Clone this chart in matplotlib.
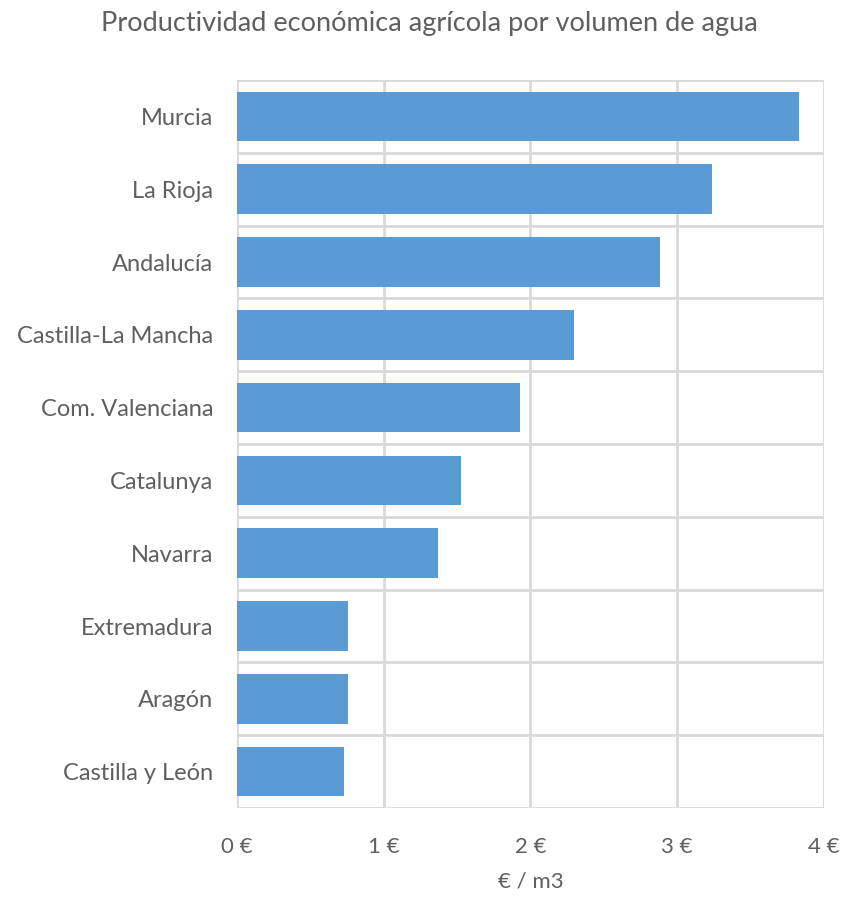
import matplotlib
matplotlib.use("Agg")
import matplotlib.pyplot as plt
import numpy as np

regions = ["Murcia", "La Rioja", "Andalucía", "Castilla-La Mancha", "Com. Valenciana",
           "Catalunya", "Navarra", "Extremadura", "Aragón", "Castilla y León"]
values = [3.83, 3.24, 2.88, 2.30, 1.93, 1.53, 1.37, 0.76, 0.76, 0.73]
x_ticks = [0, 1, 2, 3, 4]
x_tick_labels = ["0 €", "1 €", "2 €", "3 €", "4 €"]

plt.rcParams['font.family'] = ['Lato', 'DejaVu Sans']
text_color = "#5f5f5f"
grid_color = "#D9D9D9"
bar_color = "#5B9BD5"

fig = plt.figure(figsize=(8.46, 8.97), dpi=100)
ax = fig.add_axes([0.280, 0.0992, 0.694, 0.8116])

y = np.arange(len(regions))
ax.barh(y, values, height=0.68, color=bar_color, zorder=3)
ax.set_ylim(len(regions) - 0.5, -0.5)
ax.set_xlim(0, 4)

ax.set_yticks(y)
ax.set_yticklabels(regions, fontsize=17, color=text_color)
ax.set_yticks(np.arange(len(regions) + 1) - 0.5, minor=True)
ax.set_xticks(x_ticks)
ax.set_xticklabels(x_tick_labels, fontsize=16, color=text_color)

ax.tick_params(axis='both', which='both', length=0)
ax.tick_params(axis='y', pad=17)
ax.tick_params(axis='x', pad=21)

ax.grid(axis='x', which='major', color=grid_color, linewidth=2, zorder=0)
ax.grid(axis='y', which='minor', color=grid_color, linewidth=2, zorder=0)
ax.grid(axis='y', which='major', visible=False)
for s in ax.spines.values():
    s.set_visible(False)

ax.set_xlabel("€ / m3", fontsize=16, color=text_color, labelpad=10)
fig.text(0.508, 0.974, "Productividad económica agrícola por volumen de agua",
         ha='center', va='center', fontsize=19.5, color=text_color)

fig.savefig("out.png", dpi=100, facecolor="white")
